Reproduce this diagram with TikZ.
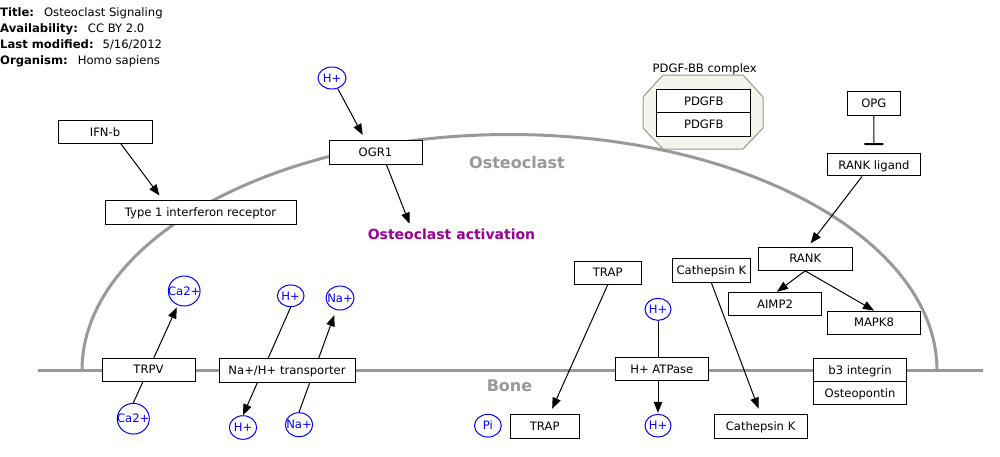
\documentclass[tikz,border=0pt]{standalone}
\usepackage{fontspec}
\setmainfont{DejaVu Sans}
\usetikzlibrary{arrows.meta,shapes.geometric}
\definecolor{memgray}{RGB}{153,153,153}
\definecolor{actpurple}{RGB}{153,0,153}
\definecolor{cplxfill}{RGB}{244,244,237}
\definecolor{cplxline}{RGB}{150,150,150}
\definecolor{ionblue}{RGB}{0,0,255}
\pgfdeclarelayer{bg}
\pgfdeclarelayer{mid}
\pgfsetlayers{bg,mid,main}
\begin{document}
\begin{tikzpicture}[x=1pt,y=-1pt,
  every node/.style={font=\fontsize{11.6}{13.5}\selectfont},
  gene/.style 2 args={draw=black,line width=1pt,fill=white,rectangle,inner sep=0pt,
    minimum width=#1,minimum height=#2,text height=8.5pt,text depth=0pt},
  ion/.style 2 args={ellipse,draw=ionblue,text=ionblue,line width=1pt,fill=white,inner sep=0pt,
    minimum width=#1,minimum height=#2,text height=8.5pt,text depth=0pt},
  arr/.style={draw=black,line width=1pt,-{Triangle[length=11pt,width=8.5pt]}},
  mem/.style={draw=memgray,line width=3pt},
  zonelabel/.style={text=memgray,font=\fontsize{16}{18}\bfseries,inner sep=0pt,text height=12pt,text depth=0pt},
  meta/.style={anchor=base west,inner sep=0pt}
]
\useasboundingbox (0,0) rectangle (1000,456);

% title block
\node[meta] (ttitle) at (0,16.7) {\textbf{Title:}\hspace{10pt}Osteoclast Signaling};
\node[meta] (tavail) at (0,32.7) {\textbf{Availability:}\hspace{10pt}CC BY 2.0};
\node[meta] (tmod) at (0,48.3) {\textbf{Last modified:}\hspace{9pt}5/16/2012};
\node[meta] (torg) at (0,64.3) {\textbf{Organism:}\hspace{10pt}Homo sapiens};

% membrane
\begin{pgfonlayer}{bg}
\draw[mem] (38,370.5) -- (983,370.5);
\draw[mem] (82,370.5) arc[start angle=180,end angle=0,x radius=427.5pt,y radius=236pt];
\end{pgfonlayer}

% zone labels
\node[zonelabel] (oclab) at (517,162) {Osteoclast};
\node[zonelabel] (bonelab) at (509.5,385) {Bone};

% PDGF-BB complex
\draw[draw=cplxline,fill=cplxfill,line width=1pt]
  (663,75) -- (743,75) -- (763,97) -- (763,128) -- (743,149) -- (663,149) -- (643,128) -- (643,97) -- cycle;
\node[anchor=base,inner sep=0pt] (cplxlab) at (704.7,72.7) {PDGF-BB complex};
\node[gene={94pt}{23.4pt}] (p1) at (703.8,101) {PDGFB};
\node[gene={94pt}{23.4pt}] (p2) at (703.8,124.4) {PDGFB};

% genes
\node[gene={94pt}{23pt}] (ifn) at (105,132) {IFN-b};
\node[gene={191pt}{24pt}] (t1) at (200.5,212) {Type 1 interferon receptor};
\node[gene={93pt}{23.6pt}] (ogr) at (375.5,152.5) {OGR1};
\node[text=actpurple,font=\fontsize{14}{16}\bfseries,inner sep=0pt,text height=10pt,text depth=0pt] (act) at (451.5,234) {Osteoclast activation};
\node[gene={53pt}{23.3pt}] (opg) at (873.8,103.4) {OPG};
\node[gene={93.4pt}{22.3pt}] (rl) at (874,164.8) {RANK ligand};
\node[gene={93.7pt}{23.3pt}] (rank) at (805.2,258.7) {RANK};
\node[gene={93.4pt}{23.4pt}] (aimp2) at (775,304) {AIMP2};
\node[gene={93.4pt}{23.3pt}] (mapk8) at (874,322.7) {MAPK8};
\node[gene={66.8pt}{23.3pt}] (trapt) at (607.7,272.7) {TRAP};
\node[gene={77.8pt}{24pt}] (catht) at (711.4,270.3) {Cathepsin K};
\node[gene={93pt}{23.3pt}] (atp) at (661.8,369.3) {H+ ATPase};
\node[gene={68.8pt}{23.6pt}] (trapb) at (544.7,426.5) {TRAP};
\node[gene={93pt}{23.6pt}] (cathb) at (760.6,426.5) {Cathepsin K};
\node[gene={93pt}{22.7pt}] (b3) at (860.1,370) {b3 integrin};
\node[gene={93pt}{23pt}] (osteo) at (860.1,392.8) {Osteopontin};
\node[gene={93pt}{23pt}] (trpv) at (148.5,369.5) {TRPV};
\node[gene={136pt}{24pt}] (nht) at (287,370.7) {Na+/H+ transporter};

% ions
\node[ion={28pt}{22pt}] (hg) at (332,78) {\makebox[0pt]{H+}};
\node[ion={26pt}{22pt}] (hup) at (658,309.3) {\makebox[0pt]{H+}};
\node[ion={26pt}{22.7pt}] (hdn) at (658,425.7) {\makebox[0pt]{H+}};
\node[ion={26.8pt}{22.7pt}] (pi) at (487.9,425.7) {\makebox[0pt]{Pi}};
\node[ion={31.7pt}{30pt}] (cat) at (184.2,291) {\makebox[0pt]{Ca2+}};
\node[ion={32pt}{30.7pt}] (cab) at (133.3,418.7) {\makebox[0pt]{Ca2+}};
\node[ion={26.7pt}{21.7pt}] (ht) at (290.7,295.8) {\makebox[0pt]{H+}};
\node[ion={28pt}{24pt}] (nat) at (340,298) {\makebox[0pt]{Na+}};
\node[ion={27.3pt}{23.6pt}] (hb) at (243,427.5) {\makebox[0pt]{H+}};
\node[ion={27.3pt}{24pt}] (nab) at (299,424.7) {\makebox[0pt]{Na+}};

% connectors
\begin{pgfonlayer}{mid}
\draw[arr,shorten >=5pt] ([xshift=16pt]ifn.south) -- ([xshift=-38pt]t1.north);
\draw[arr,shorten >=6pt] (hg) -- ([xshift=-10pt]ogr.north);
\draw[arr,shorten >=5.5pt] ([xshift=11pt]ogr.south) -- ([xshift=-40pt]act.north);
\draw[line width=1pt,-{Bar[width=19pt,line width=2pt]},shorten >=8pt] (opg.south) -- (rl.north);
\draw[arr,shorten >=4pt] ([xshift=-12pt]rl.south) -- ([xshift=3pt]rank.north);
\draw[arr] (rank.south) -- ([xshift=2pt]aimp2.north);
\draw[arr] (rank.south) -- (mapk8.north);
\draw[arr,shorten >=6pt] (trapt.south) -- ([xshift=5pt]trapb.north);
\draw[arr,shorten >=6pt] (catht.south) -- (cathb.north);
\draw[arr,shorten >=1pt] (hup) -- (hdn);
\draw[arr,shorten >=1pt] (cab.north) -- ([xshift=-7pt]cat.south);
\draw[arr] (ht.south) -- (hb.north);
\draw[arr,shorten >=5pt] (nab.north) -- ([xshift=-4pt]nat.south);
\end{pgfonlayer}
\end{tikzpicture}
\end{document}
